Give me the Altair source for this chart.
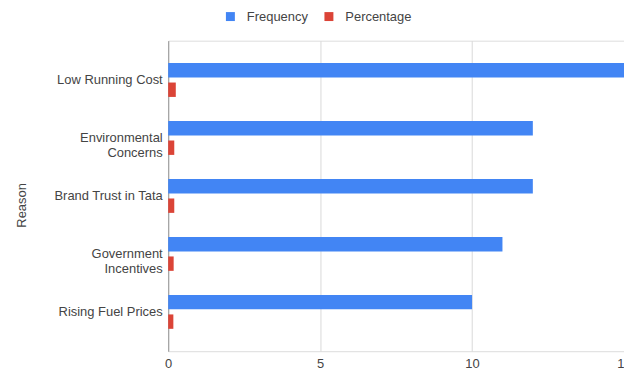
import altair as alt
import pandas as pd

reasons = ["Low Running Cost", "Environmental Concerns", "Brand Trust in Tata",
           "Government Incentives", "Rising Fuel Prices"]
frequency = [15, 12, 12, 11, 10]
percentage = [0.25, 0.20, 0.20, 0.18, 0.17]
series = ["Frequency", "Percentage"]
colors = ["#4285F4", "#DB4437"]
x_ticks = [0, 5, 10, 15]

rows = []
for r, f, p in zip(reasons, frequency, percentage):
    rows.append({"Reason": r, "Series": "Frequency", "Value": f})
    rows.append({"Reason": r, "Series": "Percentage", "Value": p})
df = pd.DataFrame(rows)

FONT = "Liberation Sans"
TXT = "#444444"

label_expr = ("datum.value == 'Environmental Concerns' ? ['Environmental', 'Concerns'] : "
              "datum.value == 'Government Incentives' ? ['Government', 'Incentives'] : datum.value")

chart = alt.Chart(df).mark_bar().encode(
    x=alt.X("Value:Q",
            scale=alt.Scale(domain=[0, 15], nice=False),
            axis=alt.Axis(values=x_ticks, title=None, domain=False, ticks=False,
                          gridColor="#d9d9d9", labelFont=FONT, labelFontSize=13,
                          labelColor=TXT, labelPadding=6, labelFlush=False,
                          labelOverlap=False, labelBound=False)),
    y=alt.Y("Reason:N", sort=reasons,
            scale=alt.Scale(paddingInner=0.416, paddingOuter=0.386),
            axis=alt.Axis(title="Reason", ticks=False, grid=False,
                          domain=True, domainColor="#999999", domainWidth=1,
                          labelExpr=label_expr, labelLineHeight=15,
                          labelFont=FONT, labelFontSize=13, labelColor=TXT,
                          labelPadding=6, labelLimit=200,
                          titleFont=FONT, titleFontSize=13, titleColor=TXT,
                          titleFontWeight="normal", titleX=-147, titleY=165,
                          titleBaseline="middle")),
    yOffset=alt.YOffset("Series:N", sort=series,
                        scale=alt.Scale(paddingInner=0.26, paddingOuter=0)),
    color=alt.Color("Series:N", sort=series,
                    scale=alt.Scale(domain=series, range=colors),
                    legend=alt.Legend(title=None, orient="none", direction="horizontal",
                                      legendX=56, legendY=-31,
                                      symbolType="square", symbolSize=81,
                                      symbolStrokeWidth=0, labelFont=FONT,
                                      labelFontSize=13, labelColor=TXT,
                                      labelOffset=10, columnPadding=14)),
).properties(
    width=458,
    height=312,
    autosize=alt.AutoSizeParams(type="none"),
    padding={"left": 169, "top": 40, "right": 0, "bottom": 19},
).configure_view(stroke=None).configure(background="white")

chart.save("out.html", embed_options={"renderer": "svg", "actions": False})
